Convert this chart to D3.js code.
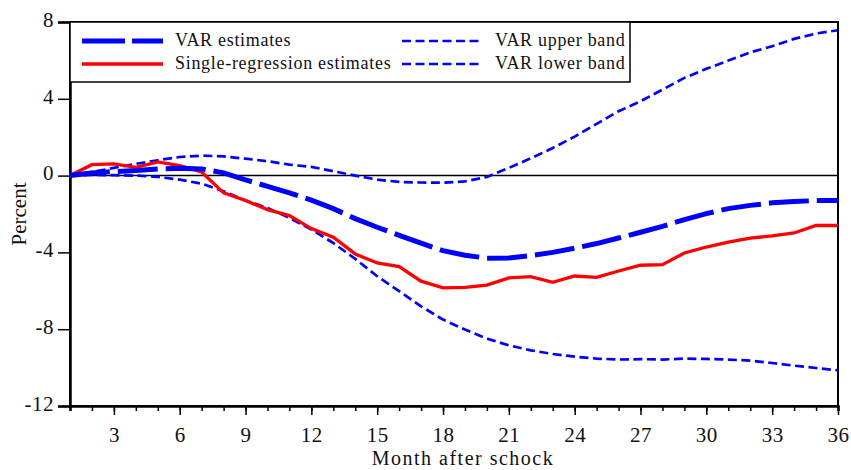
<!DOCTYPE html>
<html><head><meta charset="utf-8">
<script src="https://cdn.jsdelivr.net/npm/d3@7"></script>
<style>body{margin:0;background:#fff}svg{display:block}svg text{font-family:"Liberation Serif","DejaVu Serif","Times New Roman",Times,serif !important;fill:#111}</style>
</head><body><svg id="c" width="851" height="470"></svg>
<script>
const months = d3.range(1, 37);
const varEstimates = [0,0.14,0.21,0.26,0.35,0.38,0.35,0.14,-0.22,-0.56,-0.9,-1.28,-1.72,-2.24,-2.69,-3.11,-3.52,-3.91,-4.15,-4.3,-4.29,-4.17,-4.0,-3.78,-3.54,-3.25,-2.95,-2.64,-2.29,-1.98,-1.72,-1.55,-1.42,-1.35,-1.3,-1.3];
const singleRegression = [0,0.57,0.61,0.43,0.71,0.52,0.19,-0.9,-1.3,-1.77,-2.08,-2.76,-3.21,-4.08,-4.55,-4.74,-5.5,-5.85,-5.82,-5.7,-5.33,-5.26,-5.56,-5.23,-5.3,-4.97,-4.67,-4.64,-4.03,-3.72,-3.47,-3.26,-3.14,-2.99,-2.6,-2.6];
const varUpper = [0,0.19,0.4,0.61,0.8,0.97,1.04,1.0,0.88,0.75,0.57,0.45,0.23,0,-0.21,-0.33,-0.36,-0.37,-0.3,-0.07,0.4,0.9,1.44,2.03,2.69,3.35,3.87,4.48,5.09,5.56,5.99,6.42,6.74,7.12,7.4,7.57];
const varLower = [0,0.04,0.02,0,-0.07,-0.21,-0.42,-0.82,-1.3,-1.68,-2.2,-2.81,-3.51,-4.34,-5.24,-6.02,-6.81,-7.5,-8.02,-8.49,-8.84,-9.1,-9.29,-9.43,-9.53,-9.58,-9.56,-9.58,-9.53,-9.55,-9.58,-9.64,-9.76,-9.9,-10.02,-10.14];
const yTicks = [-12,-8,-4,0,4,8];
const xMajor = [3,6,9,12,15,18,21,24,27,30,33,36];
const legendLabels = ["VAR estimates","Single-regression estimates","VAR upper band","VAR lower band"];

const svg = d3.select("#c");
const L=70,R=838,T=22,B=406;
const x = d3.scaleLinear().domain([1,36]).range([L,R]);
const y = d3.scaleLinear().domain([-12,8]).range([B,T]);

svg.append("rect").attr("x",L).attr("y",T).attr("width",R-L).attr("height",B-T)
  .attr("fill","none").attr("stroke","#000").attr("stroke-width",2);
svg.append("line").attr("x1",L).attr("x2",R).attr("y1",y(0)).attr("y2",y(0))
  .attr("stroke","#000").attr("stroke-width",1.5);

const ya = svg.append("g").attr("transform",`translate(${L},0)`)
  .call(d3.axisLeft(y).tickValues(yTicks).tickSize(12).tickPadding(4).tickFormat(d=>String(d)));
ya.select(".domain").attr("stroke-width",2.5);
ya.selectAll(".tick line").attr("stroke-width",1.5);
ya.selectAll("text").attr("font-size",21).attr("dy","0.2em").attr("letter-spacing",0.5).attr("fill","#111");

const xa = svg.append("g").attr("transform",`translate(0,${B})`)
  .call(d3.axisBottom(x).tickValues(months).tickSize(5).tickFormat(""));
xa.select(".domain").attr("stroke-width",2.5);
xa.selectAll(".tick line").attr("stroke-width",1.5);
const xb = svg.append("g").attr("transform",`translate(0,${B})`)
  .call(d3.axisBottom(x).tickValues(xMajor).tickSize(9).tickPadding(12).tickFormat(d=>String(d)));
xb.select(".domain").remove();
xb.selectAll(".tick line").attr("stroke-width",1.5);
xb.selectAll("text").attr("font-size",21).attr("letter-spacing",0.5).attr("fill","#111");

svg.append("text").attr("x",463).attr("y",465).attr("text-anchor","middle").attr("font-size",20).attr("letter-spacing",1.5).text("Month after schock");
svg.append("text").attr("transform","translate(26,214) rotate(-90)").attr("text-anchor","middle").attr("font-size",21).text("Percent");

const line = d3.line().x((d,i)=>x(months[i])).y(d=>y(d));
svg.append("path").datum(varLower).attr("d",line).attr("fill","none").attr("stroke","#0000ff").attr("stroke-width",2.7).attr("stroke-dasharray","9,4.5");
svg.append("path").datum(varUpper).attr("d",line).attr("fill","none").attr("stroke","#0000ff").attr("stroke-width",2.7).attr("stroke-dasharray","9,4.5");
svg.append("path").datum(singleRegression).attr("d",line).attr("fill","none").attr("stroke","#ff0000").attr("stroke-width",3.3);
svg.append("path").datum(varEstimates).attr("d",line).attr("fill","none").attr("stroke","#0000ff").attr("stroke-width",5).attr("stroke-dasharray","40,8");

const lg = svg.append("g");
lg.append("rect").attr("x",L).attr("y",T).attr("width",560).attr("height",60).attr("fill","#fff").attr("stroke","#000").attr("stroke-width",1.5);
const items = [
  {lx:82,ty:41,label:legendLabels[0],color:"#0000ff",w:5,dash:"43,7"},
  {lx:82,ty:64,label:legendLabels[1],color:"#ff0000",w:3.3,dash:null},
  {lx:402,ty:41,label:legendLabels[2],color:"#0000ff",w:2.7,dash:"9,4.5"},
  {lx:402,ty:64,label:legendLabels[3],color:"#0000ff",w:2.7,dash:"9,4.5"}
];
items.forEach(it=>{
  lg.append("line").attr("x1",it.lx).attr("x2",it.lx+81).attr("y1",it.ty).attr("y2",it.ty)
    .attr("stroke",it.color).attr("stroke-width",it.w).attr("stroke-dasharray",it.dash);
  lg.append("text").attr("x",it.lx+93).attr("y",it.ty+4.5).attr("font-size",18).attr("letter-spacing",0.7).text(it.label);
});
</script></body></html>
